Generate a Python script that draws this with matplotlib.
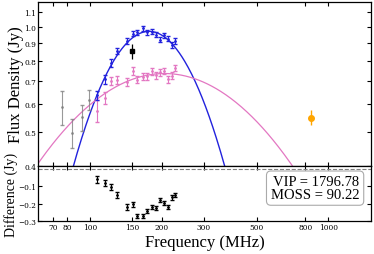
import matplotlib.pyplot as plt
import numpy as np

plt.rcParams['font.family'] = 'DejaVu Serif'
plt.rcParams['mathtext.fontset'] = 'dejavuserif'

# GLEAM-like bands
freq_lo = [76, 84, 92, 99]
flux_lo = [0.59, 0.497, 0.551, 0.619]
err_lo = [0.065, 0.047, 0.046, 0.042]

freq_mid = [107, 115, 122, 130, 143, 151, 158, 166, 174, 181, 189, 197, 204, 212, 220, 227]
flux_blue = [0.637, 0.707, 0.787, 0.854, 0.913, 0.954, 0.965, 0.989,
             0.965, 0.967, 0.950, 0.919, 0.944, 0.925, 0.889, 0.909]
err_blue = [0.02, 0.02, 0.02, 0.018, 0.018, 0.016, 0.015, 0.015,
            0.015, 0.015, 0.015, 0.016, 0.016, 0.016, 0.017, 0.017]
flux_pink = [0.576, 0.626, 0.700, 0.704, 0.696, 0.747, 0.706, 0.720,
             0.722, 0.745, 0.726, 0.740, 0.748, 0.707, 0.725, 0.761]
err_pink = [0.04, 0.025, 0.02, 0.02, 0.018, 0.018, 0.017, 0.016,
            0.016, 0.016, 0.016, 0.016, 0.016, 0.016, 0.016, 0.016]
diff = [-0.061, -0.083, -0.104, -0.150, -0.220, -0.205, -0.270, -0.270,
        -0.243, -0.220, -0.224, -0.179, -0.196, -0.220, -0.164, -0.150]
err_diff = [0.02, 0.018, 0.018, 0.018, 0.015, 0.013, 0.012, 0.012,
            0.012, 0.012, 0.012, 0.013, 0.013, 0.013, 0.013, 0.013]

freq_sq, flux_sq, err_sq = 150, 0.85, 0.042
freq_or, flux_or, err_or = 843, 0.55, 0.027

# curved power-law models: (peak freq, peak flux, curvature)
blue_model = (176.7, 0.97, -1.658)
pink_model = (205.0, 0.735, -0.397)

xticks = [70, 80, 100, 150, 200, 300, 500, 800, 1000]
yticks = [0.4, 0.5, 0.6, 0.7, 0.8, 0.9, 1.0, 1.1]

def model(f, p):
    f0, s0, c = p
    return s0 * np.exp(c * np.log(f / f0) ** 2)

label_font = 'Liberation Serif'

fig = plt.figure(figsize=(3.74, 2.55), dpi=100)
ax = fig.add_axes([0.102, 0.345, 0.890, 0.645])
ax2 = fig.add_axes([0.102, 0.129, 0.890, 0.216], sharex=ax)

ff = np.logspace(np.log10(55), np.log10(1600), 400)
ax.plot(ff, model(ff, blue_model), color='#2222dd', lw=1.0)
ax.plot(ff, model(ff, pink_model), color='#e377c2', lw=0.9)

ax.errorbar(freq_lo, flux_lo, yerr=err_lo, fmt='.', ms=2, color='gray',
            elinewidth=0.8, capsize=1.2, alpha=0.8)
ax.errorbar(freq_mid, flux_pink, yerr=err_pink, fmt='.', ms=2, color='#e377c2',
            elinewidth=0.8, capsize=1.2)
ax.errorbar(freq_mid, flux_blue, yerr=err_blue, fmt='.', ms=2, color='#2222dd',
            elinewidth=0.8, capsize=1.2)
ax.errorbar([freq_sq], [flux_sq], yerr=[err_sq], fmt='s', ms=3.5, color='black',
            elinewidth=0.9)
ax.errorbar([freq_or], [flux_or], yerr=[err_or], fmt='o', ms=4, color='orange',
            elinewidth=1.0)

ax.set_xscale('log')
ax.set_yscale('log')
ax.set_xlim(60.5, 1510)
ax.set_ylim(0.4, 1.18)
ax.set_yticks(yticks)
ax.set_yticklabels([f'{v:.1f}' for v in yticks])
ax.yaxis.set_minor_locator(plt.NullLocator())
ax.xaxis.set_minor_locator(plt.NullLocator())
ax.tick_params(which='both', direction='in', top=True, right=True, labelsize=5.3,
               length=3, width=0.8, pad=1.5)
ax.tick_params(axis='x', labelbottom=False)
ax.set_ylabel('Flux Density (Jy)', fontsize=12, family=label_font, labelpad=0)

ax2.errorbar(freq_mid, diff, yerr=err_diff, fmt='.', ms=2, color='black',
             elinewidth=0.8, capsize=1.2)
ax2.axhline(0, color='gray', ls='--', lw=0.8)
ax2.set_ylim(-0.3, 0.015)
ax2.set_yticks([-0.1, -0.2, -0.3])
ax2.set_xticks(xticks)
ax2.set_xticklabels([str(v) for v in xticks])
ax2.xaxis.set_minor_locator(plt.NullLocator())
ax2.tick_params(which='both', direction='in', top=True, right=True, labelsize=5.3,
                length=3, width=0.8, pad=1.5)
ax2.set_ylabel('Difference (Jy)', fontsize=10, family=label_font, labelpad=0)
ax2.set_xlabel('Frequency (MHz)', fontsize=12, family=label_font, labelpad=2)
ax2.text(0.965, 0.83, 'VIP = 1796.78\nMOSS = 90.22', transform=ax2.transAxes,
         ha='right', va='top', fontsize=10.5, family=label_font, linespacing=0.95,
         bbox=dict(boxstyle='round,pad=0.3', fc='white', ec='#aaaaaa', lw=0.8))

for a in (ax, ax2):
    for s in a.spines.values():
        s.set_linewidth(0.9)

fig.savefig('out.png', dpi=100)
